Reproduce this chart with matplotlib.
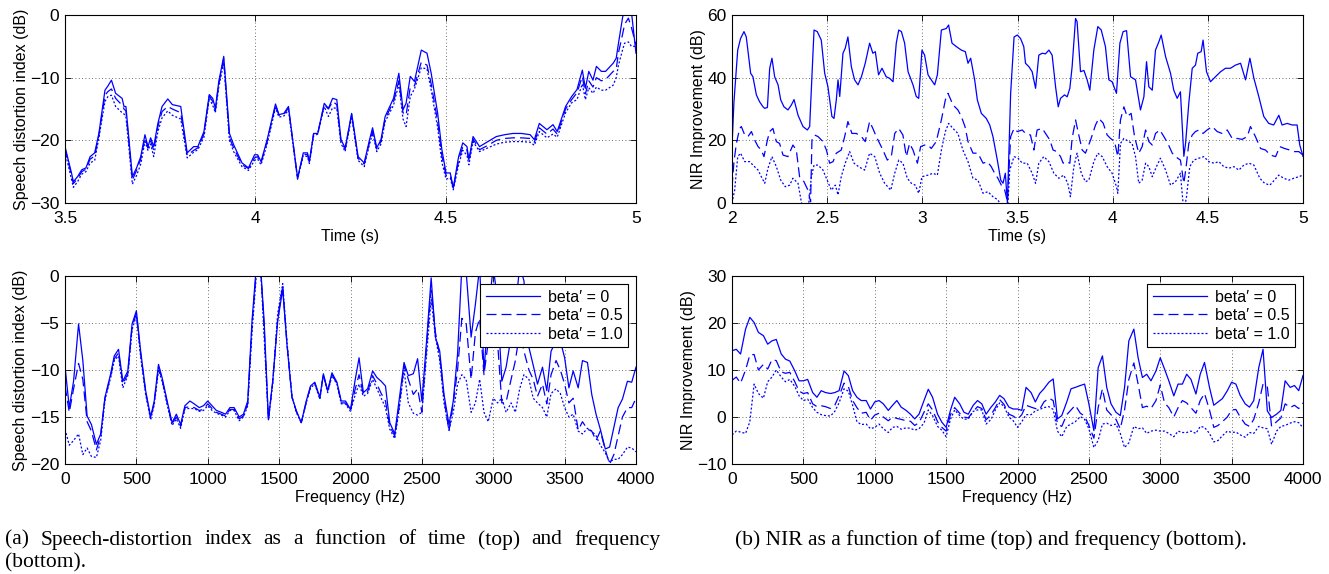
import matplotlib
matplotlib.use("Agg")
import matplotlib.pyplot as plt
import numpy as np

# ---- top-left: speech distortion index vs time ----
t_sdi = [3.500, 3.517, 3.522, 3.533, 3.544, 3.555, 3.566, 3.578, 3.589, 3.605,
         3.613, 3.622, 3.633, 3.650, 3.655, 3.660, 3.677, 3.688, 3.699, 3.710,
         3.718, 3.725, 3.733, 3.744, 3.755, 3.770, 3.782, 3.804, 3.821, 3.838,
         3.849, 3.865, 3.879, 3.888, 3.895, 3.904, 3.917, 3.932, 3.943, 3.965,
         3.982, 3.998, 4.006, 4.015, 4.031, 4.053, 4.062, 4.075, 4.087, 4.096,
         4.111, 4.126, 4.137, 4.142, 4.153, 4.164, 4.181, 4.192, 4.203, 4.214,
         4.225, 4.236, 4.253, 4.270, 4.286, 4.300, 4.308, 4.319, 4.330, 4.341,
         4.363, 4.377, 4.388, 4.396, 4.407, 4.418, 4.436, 4.451, 4.462, 4.479,
         4.490, 4.501, 4.512, 4.520, 4.534, 4.545, 4.556, 4.561, 4.572, 4.589,
         4.611, 4.633, 4.655, 4.677, 4.699, 4.722, 4.733, 4.746, 4.766, 4.782,
         4.793, 4.815, 4.831, 4.845, 4.859, 4.867, 4.876, 4.887, 4.896, 4.909,
         4.920, 4.940, 4.948, 4.954, 4.965, 4.970, 4.980, 4.988, 5.000]
sdi_t_b0 = [-21.0, -25.2, -26.6, -25.8, -24.7, -24.4, -22.6, -22.0, -18.9, -12.0,
            -11.3, -10.4, -12.5, -13.3, -14.6, -14.6, -25.8, -24.4, -22.6, -19.1,
            -21.0, -19.6, -21.0, -17.3, -14.6, -13.4, -14.3, -14.6, -22.0, -21.0,
            -21.0, -18.6, -12.7, -13.3, -14.9, -10.6, -6.6, -18.9, -20.7, -23.6,
            -24.4, -22.3, -22.3, -23.4, -19.9, -14.2, -15.9, -15.7, -14.6, -18.9,
            -26.0, -22.0, -22.0, -23.4, -18.9, -18.9, -14.1, -14.9, -13.3, -13.5,
            -19.9, -21.2, -15.7, -22.6, -23.6, -19.9, -18.0, -21.2, -19.9, -16.2,
            -13.3, -9.3, -15.1, -14.1, -9.8, -10.6, -5.6, -6.1, -9.3, -15.7,
            -21.5, -25.2, -25.2, -27.6, -22.6, -20.4, -21.0, -23.1, -19.4, -21.0,
            -20.2, -19.4, -19.1, -18.9, -18.9, -19.1, -19.9, -17.3, -18.3, -17.5,
            -18.6, -14.6, -13.0, -11.9, -8.8, -11.7, -9.0, -10.4, -8.2, -9.0,
            -9.0, -7.7, -6.9, -4.5, -0.3, 0.5, 0.5, 0.5, -6.1]
sdi_t_b05 = [-21.3, -25.6, -26.9, -26.1, -25.0, -24.6, -23.0, -22.5, -19.2, -12.8,
             -12.2, -11.8, -13.3, -14.4, -15.0, -15.3, -26.3, -24.8, -23.0, -19.6,
             -21.2, -20.1, -21.6, -17.8, -15.4, -14.6, -15.0, -15.6, -22.4, -21.6,
             -21.2, -19.0, -12.9, -13.8, -15.2, -11.0, -7.0, -19.6, -21.2, -23.9,
             -24.5, -22.8, -22.6, -23.6, -20.2, -14.4, -16.0, -15.9, -14.8, -19.0,
             -26.1, -22.2, -22.3, -23.5, -19.0, -18.9, -14.3, -15.0, -13.8, -14.3,
             -20.2, -21.4, -15.9, -22.9, -23.8, -20.3, -18.5, -21.4, -20.2, -16.6,
             -13.8, -10.5, -15.6, -16.0, -11.5, -11.3, -7.5, -8.0, -11.0, -17.0,
             -22.5, -25.6, -25.5, -27.7, -23.2, -21.0, -21.6, -23.3, -19.8, -21.5,
             -20.8, -20.0, -19.7, -19.6, -19.6, -19.7, -20.3, -18.0, -19.0, -18.2,
             -19.0, -15.0, -13.5, -12.4, -9.8, -12.6, -10.5, -11.5, -10.0, -10.5,
             -10.3, -9.0, -8.6, -6.0, -3.0, -1.5, -0.5, -2.0, -4.8]
sdi_t_b10 = [-21.8, -26.2, -27.5, -26.6, -25.4, -25.0, -23.6, -23.2, -19.6, -13.8,
             -13.0, -12.8, -14.6, -15.6, -15.8, -16.2, -27.0, -25.6, -23.8, -20.2,
             -21.6, -20.6, -22.6, -18.6, -16.4, -15.3, -16.0, -16.6, -22.8, -21.9,
             -21.5, -19.5, -13.3, -14.4, -15.6, -11.5, -7.6, -20.0, -21.8, -24.2,
             -24.8, -23.2, -23.0, -23.9, -20.6, -14.8, -16.3, -16.1, -15.2, -19.3,
             -26.2, -22.4, -22.6, -23.7, -19.3, -19.0, -14.6, -16.2, -14.8, -14.9,
             -20.5, -21.8, -16.2, -23.2, -24.2, -20.6, -18.9, -21.8, -20.6, -17.0,
             -14.4, -11.0, -16.6, -17.8, -13.0, -11.8, -8.4, -8.6, -12.0, -18.0,
             -23.5, -26.2, -26.0, -27.9, -23.9, -21.6, -22.4, -23.9, -20.2, -21.8,
             -21.2, -20.6, -20.3, -20.2, -20.2, -20.3, -20.8, -18.6, -19.6, -19.0,
             -19.5, -15.6, -14.0, -13.5, -11.0, -13.5, -11.6, -12.5, -11.5, -12.0,
             -12.0, -11.2, -10.0, -8.0, -5.5, -4.5, -4.3, -5.0, -5.0]

# ---- top-right: NIR improvement vs time ----
t_nir_b0 = [2.000, 2.010, 2.030, 2.045, 2.063, 2.075, 2.098, 2.110, 2.128, 2.145,
            2.163, 2.172, 2.186, 2.198, 2.210, 2.224, 2.242, 2.256, 2.273, 2.294,
            2.312, 2.326, 2.347, 2.373, 2.396, 2.408, 2.431, 2.448, 2.469, 2.487,
            2.504, 2.525, 2.536, 2.548, 2.557, 2.566, 2.583, 2.595, 2.609, 2.627,
            2.644, 2.662, 2.680, 2.700, 2.723, 2.740, 2.753, 2.770, 2.788, 2.810,
            2.828, 2.846, 2.863, 2.876, 2.890, 2.907, 2.925, 2.951, 2.968, 2.981,
            2.998, 3.012, 3.030, 3.047, 3.065, 3.079, 3.100, 3.126, 3.138, 3.156,
            3.179, 3.205, 3.226, 3.240, 3.254, 3.275, 3.289, 3.310, 3.336, 3.354,
            3.371, 3.394, 3.412, 3.424, 3.436, 3.447, 3.464, 3.482, 3.499, 3.516,
            3.533, 3.542, 3.560, 3.577, 3.595, 3.612, 3.630, 3.647, 3.665, 3.682,
            3.700, 3.714, 3.726, 3.747, 3.761, 3.775, 3.787, 3.805, 3.813, 3.831,
            3.849, 3.866, 3.880, 3.901, 3.922, 3.940, 3.962, 3.980, 3.997, 4.020,
            4.038, 4.055, 4.073, 4.094, 4.120, 4.146, 4.164, 4.178, 4.190, 4.208,
            4.225, 4.243, 4.255, 4.278, 4.304, 4.321, 4.339, 4.356, 4.374, 4.383,
            4.400, 4.418, 4.435, 4.447, 4.465, 4.475, 4.493, 4.514, 4.540, 4.567,
            4.593, 4.619, 4.645, 4.672, 4.698, 4.721, 4.742, 4.768, 4.794, 4.820,
            4.846, 4.873, 4.890, 4.917, 4.943, 4.969, 4.983, 5.000]
nir_t_b0 = [18.0, 32.0, 48.8, 52.5, 54.7, 53.0, 41.4, 40.3, 34.5, 32.3,
            30.7, 30.2, 30.5, 43.0, 46.2, 40.3, 37.7, 32.9, 30.7, 29.7,
            31.3, 33.0, 28.0, 24.4, 23.3, 24.4, 55.2, 54.7, 52.0, 41.4,
            37.1, 27.6, 27.0, 32.9, 39.3, 34.0, 47.8, 49.4, 53.0, 43.5,
            39.3, 37.7, 40.3, 44.6, 51.0, 47.8, 48.3, 40.9, 43.0, 40.3,
            39.8, 38.7, 51.0, 55.2, 54.7, 51.0, 41.9, 37.7, 34.0, 33.4,
            48.8, 47.2, 40.9, 39.3, 37.7, 40.9, 55.2, 55.7, 56.8, 51.0,
            49.9, 48.8, 48.3, 44.6, 46.2, 39.3, 32.9, 28.6, 27.0, 24.9,
            21.2, 13.7, 7.3, 6.3, 9.5, 0.0, 35.0, 53.0, 53.6, 52.5,
            49.9, 44.6, 43.5, 41.9, 36.6, 47.2, 47.8, 47.6, 48.8, 47.2,
            37.1, 30.7, 33.4, 34.5, 33.9, 36.6, 43.5, 58.9, 57.9, 41.9,
            42.3, 39.3, 36.0, 48.8, 56.3, 55.2, 49.9, 39.3, 38.7, 35.0,
            51.0, 54.7, 55.0, 40.3, 39.3, 29.7, 33.9, 45.1, 37.1, 36.0,
            48.8, 51.5, 53.6, 46.7, 41.4, 36.0, 33.4, 35.5, 14.9, 19.0,
            31.8, 43.0, 44.0, 47.8, 48.3, 52.0, 41.9, 38.7, 40.3, 41.9,
            43.0, 43.0, 44.0, 44.6, 39.3, 46.2, 39.8, 33.9, 27.6, 25.4,
            24.9, 28.0, 24.9, 25.4, 24.9, 24.9, 18.5, 14.9]

t_nir_b05 = [2.000, 2.010, 2.023, 2.040, 2.049, 2.067, 2.084, 2.102, 2.119, 2.137,
             2.154, 2.168, 2.186, 2.198, 2.215, 2.233, 2.250, 2.268, 2.294, 2.320,
             2.338, 2.355, 2.378, 2.399, 2.413, 2.420, 2.434, 2.452, 2.478, 2.496,
             2.513, 2.531, 2.548, 2.574, 2.592, 2.609, 2.630, 2.653, 2.680, 2.700,
             2.723, 2.740, 2.758, 2.776, 2.793, 2.816, 2.837, 2.855, 2.876, 2.898,
             2.916, 2.933, 2.951, 2.974, 2.991, 3.012, 3.030, 3.047, 3.073, 3.100,
             3.121, 3.135, 3.161, 3.187, 3.205, 3.224, 3.240, 3.266, 3.292, 3.319,
             3.342, 3.362, 3.380, 3.397, 3.415, 3.433, 3.447, 3.464, 3.482, 3.499,
             3.525, 3.542, 3.568, 3.586, 3.603, 3.630, 3.647, 3.670, 3.687, 3.708,
             3.726, 3.740, 3.757, 3.775, 3.787, 3.805, 3.822, 3.840, 3.857, 3.884,
             3.910, 3.927, 3.950, 3.971, 3.989, 4.010, 4.027, 4.041, 4.059, 4.076,
             4.097, 4.115, 4.137, 4.155, 4.173, 4.190, 4.208, 4.225, 4.248, 4.269,
             4.290, 4.313, 4.330, 4.356, 4.374, 4.386, 4.400, 4.418, 4.435, 4.453,
             4.475, 4.496, 4.523, 4.549, 4.575, 4.602, 4.628, 4.654, 4.680, 4.707,
             4.724, 4.750, 4.777, 4.803, 4.829, 4.856, 4.878, 4.903, 4.931, 4.952,
             4.978, 5.000]
nir_t_b05 = [5.0, 13.0, 19.0, 23.8, 24.4, 21.7, 21.2, 22.8, 20.1, 18.0,
             16.9, 14.8, 20.1, 22.8, 23.8, 19.6, 19.0, 15.3, 14.8, 18.5,
             16.9, 8.4, 6.8, 4.1, 0.4, 20.1, 21.7, 21.2, 19.6, 16.9,
             12.7, 13.2, 15.9, 16.9, 21.2, 26.0, 22.2, 22.2, 21.2, 19.6,
             26.0, 23.8, 21.2, 19.0, 16.9, 13.7, 14.8, 22.2, 23.8, 21.7,
             14.8, 19.0, 16.9, 12.7, 18.0, 18.5, 18.5, 17.4, 19.6, 26.5,
             32.9, 35.0, 31.3, 29.7, 27.6, 24.4, 19.6, 15.9, 15.9, 12.7,
             13.2, 11.6, 9.5, 7.9, 5.7, 4.1, 0.4, 21.2, 23.8, 22.8,
             23.3, 22.2, 21.7, 16.9, 23.3, 23.8, 22.2, 20.1, 16.9, 16.4,
             14.8, 12.7, 13.2, 12.7, 20.6, 26.5, 21.7, 16.9, 15.9, 20.1,
             24.9, 27.0, 25.5, 21.7, 20.6, 19.6, 14.8, 26.5, 30.7, 27.6,
             28.6, 21.2, 15.9, 18.0, 23.3, 19.6, 18.5, 22.2, 23.3, 21.2,
             19.0, 15.9, 14.8, 13.7, 6.3, 11.6, 19.0, 21.7, 22.8, 23.3,
             22.2, 23.3, 24.4, 22.8, 22.2, 23.3, 20.6, 20.6, 20.3, 21.2,
             24.4, 21.2, 17.4, 16.9, 15.3, 14.8, 18.0, 17.4, 16.9, 16.4,
             16.4, 15.3]

t_nir_b10 = [2.000, 2.014, 2.030, 2.045, 2.067, 2.093, 2.110, 2.137, 2.154, 2.172,
             2.189, 2.210, 2.233, 2.256, 2.280, 2.303, 2.320, 2.347, 2.364, 2.378,
             2.399, 2.417, 2.431, 2.452, 2.478, 2.500, 2.522, 2.543, 2.557, 2.574,
             2.595, 2.618, 2.641, 2.665, 2.697, 2.723, 2.750, 2.776, 2.802, 2.834,
             2.855, 2.876, 2.898, 2.921, 2.942, 2.963, 2.981, 2.998, 3.030, 3.056,
             3.079, 3.100, 3.121, 3.138, 3.161, 3.187, 3.213, 3.240, 3.266, 3.292,
             3.319, 3.345, 3.371, 3.397, 3.424, 3.447, 3.459, 3.482, 3.503, 3.525,
             3.551, 3.577, 3.595, 3.612, 3.638, 3.665, 3.691, 3.717, 3.743, 3.764,
             3.778, 3.796, 3.813, 3.835, 3.857, 3.875, 3.901, 3.922, 3.945, 3.971,
             3.997, 4.020, 4.027, 4.041, 4.059, 4.085, 4.102, 4.120, 4.137, 4.155,
             4.173, 4.190, 4.208, 4.230, 4.251, 4.278, 4.304, 4.330, 4.356, 4.374,
             4.388, 4.405, 4.426, 4.453, 4.479, 4.505, 4.532, 4.558, 4.584, 4.610,
             4.637, 4.663, 4.689, 4.716, 4.742, 4.773, 4.798, 4.826, 4.850, 4.873,
             4.899, 4.925, 4.952, 4.978, 5.000]
nir_t_b10 = [0.0, 4.1, 14.8, 15.9, 13.2, 13.2, 12.1, 10.5, 8.4, 6.3,
             11.1, 14.8, 11.6, 7.3, 5.2, 5.7, 7.9, 6.3, 0.4, -3.0,
             -3.0, 8.4, 12.1, 12.1, 10.5, 7.3, 4.1, 5.7, 2.6, 8.4,
             12.7, 16.4, 12.7, 11.6, 10.5, 15.9, 14.8, 9.5, 6.3, 4.1,
             9.5, 13.7, 12.7, 7.9, 6.3, 5.7, 3.1, 8.4, 8.9, 9.5,
             8.9, 16.9, 22.8, 25.4, 23.8, 22.2, 16.9, 13.2, 7.9, 7.3,
             3.1, 3.6, 2.0, 1.0, -2.0, -3.0, 10.5, 14.8, 14.3, 12.7,
             12.7, 9.5, 6.3, 12.7, 14.8, 13.2, 9.5, 7.9, 8.9, 6.3,
             2.0, 11.6, 15.9, 9.5, 6.8, 7.3, 13.2, 15.9, 14.8, 11.6,
             9.5, 5.2, 3.1, 19.0, 20.6, 19.6, 19.0, 14.8, 6.3, 7.3,
             12.7, 11.6, 8.4, 11.6, 14.3, 10.5, 5.7, 6.8, 9.5, -3.0,
             2.0, 11.6, 13.7, 14.3, 14.8, 13.2, 12.7, 13.2, 11.6, 11.1,
             11.6, 10.5, 12.1, 12.7, 12.1, 7.9, 6.3, 5.7, 7.3, 8.9,
             7.9, 7.3, 7.9, 8.4, 8.9]

# ---- bottom-left: speech distortion index vs frequency ----
f_sdi = [0, 30, 60, 95, 125, 155, 185, 220, 250, 280,
         320, 345, 375, 405, 440, 470, 500, 530, 565, 600,
         625, 655, 680, 720, 750, 780, 810, 840, 875, 905,
         940, 970, 1000, 1030, 1060, 1095, 1125, 1155, 1185, 1220,
         1250, 1280, 1310, 1340, 1370, 1395, 1425, 1455, 1490, 1525,
         1555, 1590, 1620, 1655, 1690, 1720, 1750, 1785, 1810, 1840,
         1870, 1905, 1935, 1965, 2000, 2030, 2060, 2090, 2120, 2155,
         2185, 2215, 2245, 2275, 2310, 2340, 2375, 2405, 2440, 2470,
         2500, 2535, 2565, 2595, 2625, 2655, 2690, 2720, 2750, 2780,
         2810, 2845, 2875, 2905, 2935, 2965, 3000, 3030, 3060, 3090,
         3125, 3155, 3185, 3215, 3250, 3280, 3310, 3345, 3375, 3405,
         3440, 3470, 3500, 3530, 3560, 3595, 3625, 3660, 3690, 3720,
         3750, 3785, 3815, 3845, 3875, 3905, 3940, 3970, 4000]
sdi_f_b0 = [-9.6, -14.0, -11.2, -5.1, -9.0, -14.9, -15.8, -17.9, -16.8, -12.9,
            -10.4, -8.5, -7.8, -11.2, -10.1, -5.1, -3.7, -8.0, -12.2, -15.0,
            -13.3, -9.4, -10.8, -13.6, -15.6, -14.7, -15.8, -13.8, -13.3, -13.6,
            -14.0, -13.8, -13.3, -13.8, -14.3, -14.5, -14.7, -14.0, -14.0, -15.0,
            -14.7, -13.3, -4.8, 1.0, 1.0, -4.8, -15.3, -11.2, -4.8, -1.4,
            -7.3, -12.9, -14.3, -15.6, -13.3, -11.7, -11.3, -12.9, -10.4, -12.2,
            -10.3, -11.3, -13.3, -13.3, -14.2, -11.3, -8.7, -12.4, -12.0, -10.1,
            -10.8, -11.2, -11.7, -15.6, -16.8, -13.3, -9.2, -10.6, -10.4, -8.8,
            -13.3, -6.5, -0.2, -6.5, -8.0, -12.6, -15.8, -13.3, -8.3, 1.0,
            0.5, -6.5, -3.0, 1.0, -10.1, -4.0, 1.0, -2.7, -11.2, -9.7,
            -6.5, -3.5, 1.0, -0.5, -7.6, -9.5, -11.5, -9.7, -12.2, -8.0,
            -6.9, -6.9, -8.7, -11.9, -10.1, -11.9, -9.0, -9.2, -12.6, -14.7,
            -16.3, -18.4, -18.2, -16.1, -14.0, -13.1, -11.2, -11.3, -9.7]
sdi_f_b05 = [-11.7, -14.5, -12.0, -9.3, -11.0, -15.5, -16.5, -18.5, -17.0, -13.0,
             -10.6, -8.8, -8.2, -11.5, -10.4, -5.4, -4.0, -8.3, -12.4, -15.1,
             -13.5, -9.7, -11.0, -13.8, -15.7, -15.0, -16.0, -14.0, -13.9, -14.0,
             -14.3, -14.2, -13.6, -14.1, -14.5, -14.7, -14.9, -14.2, -14.2, -15.2,
             -14.9, -13.6, -5.2, 0.5, 1.0, -5.5, -15.3, -11.3, -4.5, -1.0,
             -7.2, -12.9, -14.4, -15.6, -13.4, -11.8, -11.4, -13.0, -10.5, -12.3,
             -10.5, -11.4, -13.5, -13.5, -14.3, -12.2, -10.5, -12.6, -12.3, -10.6,
             -11.5, -12.5, -13.3, -16.0, -17.0, -14.0, -9.5, -11.0, -12.6, -12.0,
             -14.5, -7.0, -1.5, -6.0, -8.5, -13.0, -16.5, -13.5, -10.0, -4.5,
             -5.0, -11.0, -6.0, -4.5, -10.5, -7.0, -5.0, -7.0, -13.5, -13.4,
             -11.0, -9.0, -6.0, -8.0, -10.0, -11.0, -12.8, -11.5, -13.6, -10.5,
             -9.0, -10.0, -11.5, -13.5, -13.0, -16.4, -15.5, -16.3, -16.5, -17.5,
             -16.5, -18.5, -20.0, -19.0, -17.0, -15.0, -14.0, -14.0, -13.0]
sdi_f_b10 = [-16.3, -18.0, -17.5, -16.8, -19.0, -18.3, -19.2, -19.3, -17.5, -13.2,
             -10.8, -9.0, -8.5, -11.9, -10.6, -5.7, -4.2, -8.6, -12.6, -15.3,
             -13.7, -10.0, -11.2, -14.0, -15.9, -15.2, -16.2, -14.1, -14.1, -14.1,
             -14.4, -14.3, -13.8, -14.3, -14.6, -14.8, -15.0, -14.3, -14.3, -15.4,
             -15.0, -13.8, -6.0, 0.0, 1.0, -6.5, -15.3, -11.5, -4.0, -0.8,
             -7.0, -12.8, -14.5, -15.6, -13.5, -11.9, -11.5, -13.1, -10.6, -12.4,
             -10.6, -11.5, -13.6, -13.6, -14.4, -12.8, -11.5, -12.8, -12.5, -11.0,
             -12.0, -13.0, -14.0, -16.3, -17.3, -14.3, -10.0, -13.5, -14.6, -14.8,
             -14.5, -8.0, -2.5, -6.5, -9.0, -13.5, -16.4, -14.5, -11.5, -10.5,
             -11.0, -14.5, -13.5, -11.0, -14.5, -15.5, -13.0, -13.5, -13.0, -14.5,
             -13.5, -14.5, -12.0, -10.5, -11.0, -13.0, -13.5, -14.0, -15.0, -12.5,
             -12.0, -12.5, -14.0, -15.0, -14.7, -16.5, -16.8, -16.2, -16.5, -17.0,
             -18.0, -18.8, -19.8, -19.5, -19.5, -19.0, -18.2, -18.3, -18.7]

# ---- bottom-right: NIR improvement vs frequency ----
f_nir = [0, 30, 60, 95, 125, 155, 185, 220, 250, 280,
         310, 345, 375, 405, 440, 470, 500, 530, 565, 595,
         625, 655, 690, 720, 750, 785, 815, 845, 875, 905,
         940, 970, 1000, 1030, 1060, 1095, 1125, 1155, 1185, 1220,
         1250, 1280, 1310, 1345, 1375, 1405, 1440, 1470, 1500, 1530,
         1560, 1595, 1625, 1655, 1690, 1720, 1750, 1780, 1815, 1845,
         1875, 1905, 1940, 1970, 2000, 2030, 2060, 2095, 2125, 2155,
         2185, 2220, 2250, 2280, 2310, 2345, 2375, 2405, 2440, 2470,
         2500, 2535, 2565, 2595, 2625, 2655, 2690, 2720, 2750, 2780,
         2815, 2845, 2875, 2905, 2935, 2970, 3000, 3030, 3060, 3095,
         3125, 3155, 3185, 3215, 3250, 3280, 3310, 3345, 3375, 3405,
         3435, 3470, 3500, 3530, 3560, 3595, 3625, 3655, 3690, 3720,
         3750, 3780, 3815, 3845, 3875, 3910, 3940, 3970, 4000]
nir_f_b0 = [14.1, 14.4, 13.4, 18.7, 21.2, 20.1, 18.0, 17.3, 15.5, 16.2,
            16.5, 13.4, 12.3, 11.9, 9.8, 7.7, 7.7, 8.0, 5.2, 4.2,
            5.6, 5.2, 5.0, 5.2, 5.6, 9.8, 8.8, 5.6, 4.2, 3.5,
            3.5, 1.7, 3.2, 3.5, 2.8, 1.4, 2.5, 3.5, 2.1, 1.4,
            0.6, -0.4, 0.6, 3.5, 5.9, 4.2, 0.6, -1.1, -2.2, 1.4,
            4.2, 2.8, 1.0, 0.6, 2.5, 3.5, 2.8, 0.6, 2.1, 3.2,
            4.6, 3.9, 2.1, 1.7, 1.7, 1.4, 6.3, 5.2, 3.2, 5.0,
            6.0, 7.4, 8.1, -0.4, 0.3, 3.2, 6.0, 6.3, 6.7, 7.0,
            2.8, -2.9, 10.5, 13.0, 6.3, 2.8, 1.0, 0.3, 6.3, 16.2,
            18.7, 12.6, 8.4, 9.1, 7.7, 9.8, 12.6, 10.2, 7.7, 4.5,
            7.0, 7.0, 9.1, 8.0, 4.9, 9.1, 11.6, 6.3, 2.5, 3.2,
            3.9, 5.6, 7.4, 7.0, 4.6, 2.8, 2.1, 3.5, 10.5, 14.4,
            1.3, -0.1, 0.6, 1.4, 7.7, 6.3, 6.7, 5.6, 8.8]
nir_f_b05 = [7.8, 8.5, 7.2, 10.0, 13.2, 13.3, 10.0, 11.2, 10.2, 12.2,
             12.0, 9.6, 9.3, 9.5, 7.5, 5.5, 5.0, 5.2, 2.8, 2.2,
             2.4, 2.2, 1.8, 2.5, 4.5, 7.2, 6.5, 3.5, 2.0, 0.8,
             1.0, -0.7, 0.4, 0.8, 0.0, -0.8, 0.0, -0.3, -0.5, -0.8,
             -0.9, -1.8, -1.2, 1.0, 2.8, 1.5, -1.0, -2.2, -3.0, 0.5,
             2.0, 0.8, 0.0, -0.2, 1.2, 2.2, 1.8, -0.6, 0.5, 2.0,
             3.7, 2.7, 0.6, 0.2, -0.5, 0.5, 2.5, 2.1, 1.8, 1.6,
             3.2, 4.0, 3.5, -1.5, -2.0, 0.5, 1.5, 2.5, 0.8, 0.2,
             -1.8, -4.5, 2.0, 6.0, 1.5, 0.5, -0.5, -2.5, 1.5, 8.0,
             11.5, 7.0, 2.0, 2.3, 1.8, 3.5, 6.8, 3.0, 2.0, 0.0,
             2.0, 3.5, 3.0, 2.0, 0.8, 3.5, 5.0, 1.5, -2.2, -1.8,
             -1.0, 0.0, 1.5, 1.6, 0.0, -1.5, -2.0, -0.5, 3.0, 7.0,
             6.5, -2.0, -1.0, -0.2, 2.8, 2.0, 2.5, 1.8, 3.0]
nir_f_b10 = [-3.8, -3.0, -3.2, -3.5, -1.0, 7.0, 5.0, 4.0, 7.5, 8.5,
             10.0, 8.5, 7.5, 8.0, 6.5, 4.5, 3.5, 3.8, 2.0, 1.0,
             0.5, 0.3, 0.2, 1.2, 3.0, 6.0, 5.5, 2.5, -1.0, -1.6,
             -1.5, -2.5, -2.2, -1.5, -2.5, -3.3, -2.2, -2.0, -2.6, -2.3,
             -2.4, -2.8, -2.5, -1.3, 1.5, 0.3, -2.0, -2.8, -4.2, -0.5,
             1.5, 0.3, -0.5, -0.4, 1.2, 1.5, 1.5, -1.5, -0.5, 1.5,
             3.0, 2.3, 0.0, -0.8, -2.2, -1.0, 0.5, 0.5, 1.3, 1.6,
             2.0, 2.2, 1.6, -3.0, -4.2, -2.0, -1.5, -1.0, 0.1, -0.5,
             -2.5, -6.5, -5.0, -1.5, -1.3, -1.8, -1.5, -3.5, -6.5, -5.5,
             -2.0, -2.5, -2.3, -3.5, -3.0, -2.8, -3.0, -3.0, -3.5, -4.2,
             -3.0, -3.3, -3.3, -3.0, -3.5, -2.0, -2.2, -3.5, -5.3, -5.0,
             -4.0, -3.0, -3.3, -3.2, -3.8, -4.3, -3.3, -3.5, -2.0, -2.3,
             -2.5, -5.8, -3.0, -2.0, -1.8, -1.3, -1.0, -1.2, -2.3]

labels = ["beta\u2032 = 0", "beta\u2032 = 0.5", "beta\u2032 = 1.0"]

plt.rcParams["font.family"] = ["Liberation Sans", "DejaVu Sans"]
plt.rcParams["font.size"] = 12

BLUE = (0, 0, 1)
STYLES = [dict(linestyle="-"),
          dict(linestyle=(0, (8, 4))),
          dict(linestyle=(0, (1.6, 1.6)))]

fig = plt.figure(figsize=(13.29, 5.74), dpi=100)
W, H = 1329.0, 574.0


def make_ax(x0, y0, x1, y1):
    return fig.add_axes([x0 / W, 1 - y1 / H, (x1 - x0) / W, (y1 - y0) / H])


def style(ax, xlim, ylim, xticks, yticks, xlabel, ylabel):
    ax.set_xlim(*xlim)
    ax.set_ylim(*ylim)
    ax.set_xticks(xticks)
    ax.set_yticks(yticks)
    ax.set_xticklabels([("%g" % v) for v in xticks])
    ax.set_yticklabels([("%g" % v).replace("-", "\u2212") for v in yticks])
    ax.grid(True, color="0.25", linestyle=(0, (1, 3)), linewidth=0.6)
    ax.tick_params(direction="in", top=True, right=True, length=4, width=0.6,
                   labelsize=12.5)
    ax.tick_params(axis="x", pad=6)
    ax.tick_params(axis="y", pad=4)
    for s in ax.spines.values():
        s.set_linewidth(0.8)
    ax.set_xlabel(xlabel, fontsize=11.5, labelpad=2)
    ax.set_ylabel(ylabel, fontsize=11.5, labelpad=1)


def draw(ax, xs, ys, legend=False):
    for x, y, st, lab in zip(xs, ys, STYLES, labels):
        ax.plot(x, y, color=BLUE, linewidth=0.9, label=lab, **st)
    if legend:
        leg = ax.legend(loc="upper right", fontsize=11.5, handlelength=3.4,
                        fancybox=False, framealpha=1, edgecolor="black",
                        borderaxespad=0.5, labelspacing=0.22,
                        handletextpad=0.5, borderpad=0.35)
        leg.get_frame().set_linewidth(0.8)
        leg.set_zorder(10)


ax1 = make_ax(65, 15, 636, 203)
draw(ax1, [t_sdi] * 3, [sdi_t_b0, sdi_t_b05, sdi_t_b10])
style(ax1, (3.5, 5), (-30, 0), [3.5, 4, 4.5, 5], [-30, -20, -10, 0],
      "Time (s)", "Speech distortion index (dB)")

ax2 = make_ax(732, 15, 1303, 203)
draw(ax2, [t_nir_b0, t_nir_b05, t_nir_b10], [nir_t_b0, nir_t_b05, nir_t_b10])
style(ax2, (2, 5), (0, 60), [2, 2.5, 3, 3.5, 4, 4.5, 5], [0, 20, 40, 60],
      "Time (s)", "NIR Improvement (dB)")

ax3 = make_ax(65, 276, 636, 464)
draw(ax3, [f_sdi] * 3, [sdi_f_b0, sdi_f_b05, sdi_f_b10], legend=True)
style(ax3, (0, 4000), (-20, 0), list(range(0, 4001, 500)), [-20, -15, -10, -5, 0],
      "Frequency (Hz)", "Speech distortion index (dB)")

ax4 = make_ax(732, 276, 1303, 464)
draw(ax4, [f_nir] * 3, [nir_f_b0, nir_f_b05, nir_f_b10], legend=True)
style(ax4, (0, 4000), (-10, 30), list(range(0, 4001, 500)), [-10, 0, 10, 20, 30],
      "Frequency (Hz)", "NIR Improvement (dB)")

# captions (serif, first line of (a) justified)
cap_font = dict(family=["Liberation Serif", "DejaVu Serif"], fontsize=15.5)
words_a = "(a) Speech-distortion index as a function of time (top) and frequency".split()
fig.canvas.draw()
renderer = fig.canvas.get_renderer()
tmp = [fig.text(0, 0, w, **cap_font) for w in words_a]
widths = [t.get_window_extent(renderer).width for t in tmp]
for t in tmp:
    t.remove()
left_px, right_px = 5.0, 660.0
gap = (right_px - left_px - sum(widths)) / (len(words_a) - 1)
xpos = left_px
for w, wd in zip(words_a, widths):
    fig.text(xpos / W, 1 - 540 / H, w, va="center", ha="left", **cap_font)
    xpos += wd + gap
fig.text(left_px / W, 1 - 563 / H, "(bottom).", va="center", ha="left", **cap_font)
fig.text(735 / W, 1 - 540 / H,
         "(b) NIR as a function of time (top) and frequency (bottom).",
         va="center", ha="left", **cap_font)

fig.savefig("out.png", dpi=100)
